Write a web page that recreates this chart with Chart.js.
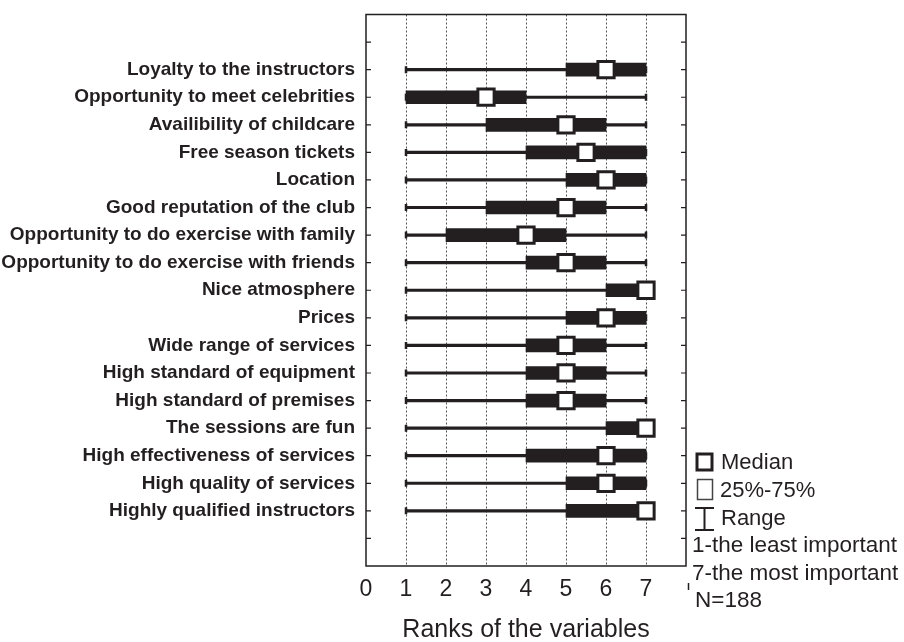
<!DOCTYPE html>
<html>
<head>
<meta charset="utf-8">
<script src="https://cdn.jsdelivr.net/npm/chart.js@4/dist/chart.umd.min.js"></script>
<style>
  body { margin: 0; background: #fff; }
  canvas { display: block; }
</style>
</head>
<body>
<canvas id="ranks" width="904" height="642"></canvas>
<script>
// variables, top to bottom
const categories = [
  "Loyalty to the instructors",
  "Opportunity to meet celebrities",
  "Availibility of childcare",
  "Free season tickets",
  "Location",
  "Good reputation of the club",
  "Opportunity to do exercise with family",
  "Opportunity to do exercise with friends",
  "Nice atmosphere",
  "Prices",
  "Wide range of services",
  "High standard of equipment",
  "High standard of premises",
  "The sessions are fun",
  "High effectiveness of services",
  "High quality of services",
  "Highly qualified instructors"
];
const rangeMin = [1, 1, 1, 1, 1, 1, 1, 1, 1, 1, 1, 1, 1, 1, 1, 1, 1];
const rangeMax = [7, 7, 7, 7, 7, 7, 7, 7, 7, 7, 7, 7, 7, 7, 7, 7, 7];
const q25 = [5, 1, 3, 4, 5, 3, 2, 4, 6, 5, 4, 4, 4, 6, 4, 5, 5];
const q75 = [7, 4, 6, 7, 7, 6, 5, 6, 7, 7, 6, 6, 6, 7, 7, 7, 7];
const medians = [6, 3, 5, 5.5, 6, 5, 4, 5, 7, 6, 5, 5, 5, 7, 6, 6, 7];
const xTicks = [0, 1, 2, 3, 4, 5, 6, 7, 8];

const INK = "#231f20";
const ROW0 = 2; // two empty slots above the first variable

const rowPos = categories.map((c, i) => i + ROW0);

const rangeData = categories.map((c, i) => ({ x: [rangeMin[i], rangeMax[i]], y: rowPos[i] }));
const boxData = categories.map((c, i) => ({ x: [q25[i], q75[i]], y: rowPos[i] }));
const capData = [];
categories.forEach((c, i) => {
  capData.push({ x: rangeMin[i], y: rowPos[i] });
  capData.push({ x: rangeMax[i], y: rowPos[i] });
});
const medianData = categories.map((c, i) => ({ x: medians[i], y: rowPos[i] }));

// frame, inward ticks and the legend notes
const decorations = {
  id: "decorations",
  afterDraw(chart) {
    const { ctx, chartArea: a } = chart;
    const y = chart.scales.y;
    ctx.save();
    ctx.strokeStyle = INK;
    ctx.lineWidth = 1.5;
    ctx.strokeRect(a.left, a.top, a.right - a.left, a.bottom - a.top);
    ctx.lineWidth = 1.2;
    y.ticks.forEach(t => {
      if (t.value <= 0 || t.value >= 20) return;
      const py = y.getPixelForValue(t.value);
      ctx.beginPath();
      ctx.moveTo(a.left, py); ctx.lineTo(a.left + 5, py);
      ctx.moveTo(a.right, py); ctx.lineTo(a.right - 5, py);
      ctx.stroke();
    });

    // legend block hides most of the last tick label
    ctx.fillStyle = "#fff";
    ctx.fillRect(680, 570, 224, 72);

    ctx.strokeStyle = INK;
    ctx.lineWidth = 3;
    ctx.strokeRect(697, 454, 15, 16);
    ctx.lineWidth = 1.5;
    ctx.strokeStyle = "#444";
    ctx.strokeRect(697.5, 479.5, 15, 20);
    ctx.strokeStyle = INK;
    ctx.lineWidth = 2;
    ctx.beginPath();
    ctx.moveTo(695, 508); ctx.lineTo(714, 508);
    ctx.moveTo(704.5, 508); ctx.lineTo(704.5, 530);
    ctx.moveTo(695, 530); ctx.lineTo(714, 530);
    ctx.stroke();
    ctx.lineWidth = 1.5;
    ctx.beginPath();
    ctx.moveTo(688.5, 583); ctx.lineTo(688.5, 590);
    ctx.stroke();

    ctx.fillStyle = INK;
    ctx.font = "22px 'Liberation Sans', Arial, sans-serif";
    ctx.textBaseline = "middle";
    ctx.textAlign = "left";
    ctx.fillText("Median", 721, 463);
    ctx.fillText("25%-75%", 720, 491);
    ctx.fillText("Range", 721, 519);
    ctx.font = "22.5px 'Liberation Sans', Arial, sans-serif";
    ctx.fillText("1-the least important", 692, 546);
    ctx.fillText("7-the most important", 692, 574);
    ctx.fillText("N=188", 695, 601);
    ctx.restore();
  }
};

new Chart(document.getElementById("ranks"), {
  type: "bar",
  data: {
    datasets: [
      {
        type: "scatter",
        data: medianData,
        xAxisID: "x", yAxisID: "y",
        pointStyle: "rect",
        pointRadius: 11.5,
        pointHoverRadius: 11.5,
        pointBackgroundColor: "#fff",
        pointBorderColor: INK,
        pointBorderWidth: 3,
        order: 0
      },
      {
        type: "scatter",
        data: capData,
        xAxisID: "x", yAxisID: "y",
        pointStyle: "line",
        rotation: 90,
        pointRadius: 3.5,
        pointBorderColor: INK,
        pointBorderWidth: 2.5,
        order: 1
      },
      {
        data: boxData,
        indexAxis: "y",
        xAxisID: "x", yAxisID: "y",
        grouped: false,
        barThickness: 13,
        backgroundColor: INK,
        order: 2
      },
      {
        data: rangeData,
        indexAxis: "y",
        xAxisID: "x", yAxisID: "y",
        grouped: false,
        barThickness: 2.5,
        backgroundColor: INK,
        order: 3
      }
    ]
  },
  options: {
    responsive: false,
    animation: false,
    layout: { padding: { top: 13 } },
    plugins: { legend: { display: false }, tooltip: { enabled: false } },
    scales: {
      x: {
        type: "linear",
        position: "bottom",
        offset: false,
        min: 0,
        max: 8,
        afterBuildTicks: s => { s.ticks = xTicks.map(v => ({ value: v })); },
        afterFit: s => { s.height = 76; s.paddingLeft = 0; s.paddingRight = 0; },
        ticks: {
          color: INK,
          padding: 10,
          font: { family: "'Liberation Sans', Arial, sans-serif", size: 23 }
        },
        grid: {
          offset: false,
          drawTicks: false,
          lineWidth: 1,
          color: c => (c.tick && c.tick.value > 0 && c.tick.value < 8) ? "#555" : "rgba(0,0,0,0)"
        },
        border: { display: false, dash: [2, 2] },
        title: {
          display: true,
          text: "Ranks of the variables",
          color: INK,
          padding: { top: 4, bottom: -3 },
          font: { family: "'Liberation Sans', Arial, sans-serif", size: 25 }
        }
      },
      y: {
        type: "linear",
        position: "left",
        reverse: true,
        offset: false,
        min: 0,
        max: 20,
        afterFit: s => { s.width = 366; s.paddingTop = 0; s.paddingBottom = 0; },
        ticks: {
          stepSize: 1,
          autoSkip: false,
          padding: 11,
          color: INK,
          font: { family: "'Liberation Sans', Arial, sans-serif", size: 19, weight: "bold" },
          callback: v => categories[v - ROW0] || ""
        },
        grid: { display: false, offset: false, drawTicks: false },
        border: { display: false }
      },
      y2: {
        type: "linear",
        position: "right",
        reverse: true,
        offset: false,
        min: 0,
        max: 20,
        afterFit: s => { s.width = 218; s.paddingTop = 0; s.paddingBottom = 0; },
        ticks: { display: false },
        grid: { display: false, drawTicks: false },
        border: { display: false }
      }
    }
  },
  plugins: [decorations]
});
</script>
</body>
</html>
